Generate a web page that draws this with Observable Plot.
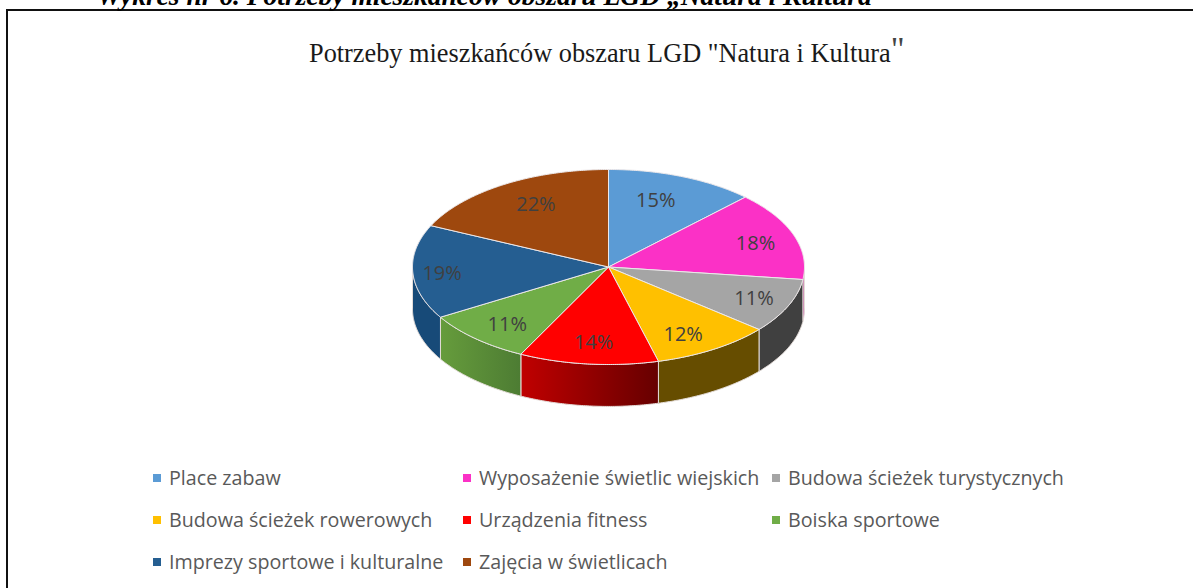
<!DOCTYPE html>
<html lang="pl">
<head>
<meta charset="utf-8">
<script src="https://cdn.jsdelivr.net/npm/d3@7"></script>
<script src="https://cdn.jsdelivr.net/npm/@observablehq/plot@0.6"></script>
<style>
  html, body { margin: 0; padding: 0; background: #fff; width: 1193px; height: 588px; overflow: hidden; }
  #stage { position: relative; width: 1193px; height: 588px; overflow: hidden; }
  #chart { position: absolute; left: 0; top: 0; }
  #frame { position: absolute; left: 6px; top: 9px; width: 1300px; height: 700px; border: 2px solid #111; box-sizing: border-box; }
  #heading { position: absolute; left: 97px; top: -20px; font: italic bold 27.5px "Liberation Serif", serif; color: #000; white-space: nowrap; }
  #title { position: absolute; left: 309px; top: 39px; font: 26.3px "Liberation Serif", serif; color: #1a1a1a; white-space: nowrap; }
  #title .q { font-size: 34px; color: #444; vertical-align: 2px; line-height: 0; }
  .lg { position: absolute; font: 19.7px "Open Sans", sans-serif; color: #595959; white-space: nowrap; line-height: 24px; }
  .sw { position: absolute; width: 8px; height: 8px; }
</style>
</head>
<body>
<div id="stage"></div>
<script>
const categories = ["Place zabaw", "Wyposażenie świetlic wiejskich", "Budowa ścieżek turystycznych", "Budowa ścieżek rowerowych", "Urządzenia fitness", "Boiska sportowe", "Imprezy sportowe i kulturalne", "Zajęcia w świetlicach"];
const shares = [15, 18, 11, 12, 14, 11, 19, 22];
const palette = ["#5b9bd5", "#fb31c6", "#a5a5a5", "#ffc000", "#ff0000", "#70ad47", "#255e91", "#9e480e"];
const wallFrom = ["#4a7fae", "#b52490", "#404040", "#664d00", "#c00000", "#669c3c", "#174a78", "#7a380b"];
const wallTo = ["#4a7fae", "#b52490", "#404040", "#664d00", "#660000", "#4d7c33", "#174a78", "#7a380b"];
// where along its radius each percentage label sits (Excel's own placement)
const labelReachX = [0.64, 0.794, 0.81, 0.71, 0.74, 0.76, 0.85, 0.69];
const labelReachY = [0.735, 0.72, 0.82, 0.82, 0.78, 0.81, 1.4, 0.76];
const legendColumns = [153, 463, 772];
const legendRows = [478, 520, 562];

const depth = 0.43; // thickness of the disc, in units of the vertical radius
const arcs = d3.pie().sort(null).value(d => d).startAngle(0).endAngle(2 * Math.PI)(shares);
const arcPoints = (a0, a1) => {
  const n = Math.max(2, Math.ceil((a1 - a0) / 0.01));
  return d3.range(n + 1).map(i => a0 + (a1 - a0) * i / n);
};
const topPolys = arcs.flatMap((a, i) => {
  const ring = arcPoints(a.startAngle, a.endAngle).map(t => ({cat: categories[i], x: Math.sin(t), y: -Math.cos(t)}));
  const hub = {cat: categories[i], x: 0, y: 0};
  return [hub, ...ring, hub];
});
const walls = arcs.map((a, i) => {
  const a0 = Math.max(a.startAngle, Math.PI / 2), a1 = Math.min(a.endAngle, 1.5 * Math.PI);
  if (a1 <= a0) return null;
  const upper = arcPoints(a0, a1).map(t => ({x: Math.sin(t), y: -Math.cos(t)}));
  const lower = upper.slice().reverse().map(p => ({x: p.x, y: p.y + depth}));
  return {i, pts: [...upper, ...lower, upper[0]]};
}).filter(Boolean);
const labels = arcs.map((a, i) => {
  const t = (a.startAngle + a.endAngle) / 2;
  return {text: shares[i] + "%", x: Math.sin(t) * labelReachX[i], y: -Math.cos(t) * labelReachY[i]};
});

const defs = () => {
  const d = d3.create("svg:defs");
  walls.forEach(w => {
    const g = d.append("linearGradient").attr("id", "wall" + w.i).attr("x1", 0).attr("x2", 1).attr("y1", 0).attr("y2", 0);
    g.append("stop").attr("offset", 0).attr("stop-color", wallFrom[w.i]);
    g.append("stop").attr("offset", 1).attr("stop-color", wallTo[w.i]);
  });
  return d.node();
};

const plot = Plot.plot({
  width: 1193,
  height: 588,
  margin: 0,
  style: {background: "transparent"},
  x: {domain: [-1, 1], range: [412, 804], axis: null},
  y: {domain: [-1, 1], range: [169, 364], axis: null},
  color: {domain: categories, range: palette},
  marks: [
    defs,
    ...walls.map(w => Plot.line(w.pts, {x: "x", y: "y", fill: `url(#wall${w.i})`, stroke: "#e4dcd8", strokeWidth: 1, curve: "linear"})),
    Plot.line(topPolys, {x: "x", y: "y", z: "cat", fill: "cat", stroke: "#ece8ea", strokeWidth: 1, curve: "linear"}),
    Plot.text(labels, {x: "x", y: "y", text: "text", fill: "#404040", fontSize: 20, fontFamily: "Open Sans, sans-serif"})
  ]
});

const stage = document.getElementById("stage");
plot.id = "chart";
stage.appendChild(plot);

const add = (cls, html, css) => {
  const el = document.createElement("div");
  el.className = cls;
  el.innerHTML = html;
  Object.assign(el.style, css || {});
  stage.appendChild(el);
  return el;
};
add("", "", {}).id = "frame";
add("", "Wykres nr 6. Potrzeby mieszkańców obszaru LGD „Natura i Kultura”").id = "heading";
add("", 'Potrzeby mieszkańców obszaru LGD "Natura i Kultura<span class="q">"</span>').id = "title";

const legendSlots = [[0,0],[1,0],[2,0],[0,1],[1,1],[2,1],[0,2],[1,2]];
categories.forEach((c, i) => {
  const [cx, ry] = legendSlots[i];
  add("sw", "", {left: legendColumns[cx] + "px", top: (legendRows[ry] - 4) + "px", background: palette[i]});
  add("lg", c, {left: (legendColumns[cx] + 16) + "px", top: (legendRows[ry] - 12) + "px"});
});
</script>
</body>
</html>
